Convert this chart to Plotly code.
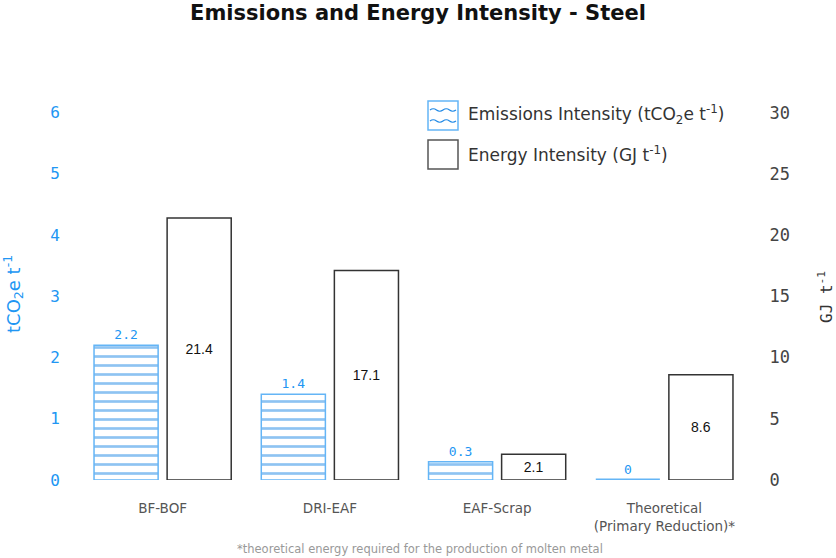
import plotly.graph_objects as go

categories = ["BF-BOF", "DRI-EAF", "EAF-Scrap", "Theoretical<br>(Primary Reduction)*"]
emissions = [2.2, 1.4, 0.3, 0]
energy = [21.4, 17.1, 2.1, 8.6]
left_ticks = [0, 1, 2, 3, 4, 5, 6]
right_ticks = [0, 5, 10, 15, 20, 25, 30]

BLUE = "#1E88E5"
LBLUE = "#64B5F6"
TBLUE = "#2196F3"
DARK = "#333333"
MONO = "DejaVu Sans Mono"
SANS = "DejaVu Sans, sans-serif"

W_PX, H_PX = 836, 558
L, R, T, B = 79, 748, 82, 480


def px(x):
    return (x - L) / (R - L)


def py(y):
    return (B - y) / (B - T)


fig = go.Figure()
fig.add_bar(
    x=categories, y=emissions, yaxis="y", offsetgroup="1",
    marker=dict(color="white", line=dict(color=LBLUE, width=[1.5 if v else 3 for v in emissions]),
                pattern=dict(shape="-", fgcolor=BLUE, bgcolor="white", size=9, solidity=0.3)),
    text=[str(v) for v in emissions], textposition="outside",
    textfont=dict(color=TBLUE, family=MONO, size=13), cliponaxis=False,
    name="Emissions Intensity", showlegend=False,
)
fig.add_bar(
    x=categories, y=energy, yaxis="y2", offsetgroup="2",
    marker=dict(color="white", line=dict(color=DARK, width=1.5)),
    text=[str(v) for v in energy], textposition="inside", insidetextanchor="middle",
    textfont=dict(color="#111111", family="Liberation Sans, Arial, sans-serif", size=14), cliponaxis=False,
    name="Energy Intensity", showlegend=False,
)

fig.update_layout(
    width=W_PX, height=H_PX,
    margin=dict(l=L, r=W_PX - R, t=T, b=H_PX - B),
    paper_bgcolor="white", plot_bgcolor="white",
    barmode="group", bargap=0.126, bargroupgap=0.123,
    title=dict(text="<b>Emissions and Energy Intensity - Steel</b>", x=0.5, xanchor="center",
               y=1 - 13 / H_PX, yanchor="middle", font=dict(family=SANS, size=21, color="#111111")),
    font=dict(family=SANS),
    xaxis=dict(showgrid=False, showline=False, zeroline=False, ticks="outside", ticklen=16,
               tickcolor="rgba(0,0,0,0)", tickfont=dict(color="#555555", size=13.5, family=SANS)),
    yaxis=dict(range=[0, 6.5], tickvals=left_ticks, showgrid=False, zeroline=False, showline=False,
               ticks="outside", ticklen=15, tickcolor="rgba(0,0,0,0)",
               tickfont=dict(color=TBLUE, family=MONO, size=16)),
    yaxis2=dict(range=[0, 32.5], tickvals=right_ticks, overlaying="y", side="right",
                showgrid=False, zeroline=False, showline=False,
                ticks="outside", ticklen=17, tickcolor="rgba(0,0,0,0)",
                tickfont=dict(color="#444444", family=MONO, size=17)),
    showlegend=False,
)

# axis titles
fig.add_annotation(xref="paper", yref="paper", x=px(13), y=py(294), xanchor="center", yanchor="middle",
                   text="tCO<sub>2</sub>e t<sup>-1</sup>",
                   textangle=-90, showarrow=False, font=dict(color=TBLUE, family=SANS, size=18))
fig.add_annotation(xref="paper", yref="paper", x=px(825), y=py(297), xanchor="center", yanchor="middle",
                   text="GJ t<sup>-1</sup>",
                   textangle=-90, showarrow=False, font=dict(color=DARK, family=MONO, size=16))

# custom legend
fig.add_shape(type="rect", xref="paper", yref="paper", x0=px(428), x1=px(458), y0=py(130), y1=py(101),
              line=dict(color=LBLUE, width=1.5), fillcolor="white")
for wy in (110, 121):
    path = f"M {px(430)},{py(wy)}"
    x = 430
    up = True
    while x < 456:
        nx = min(x + 6.5, 456)
        cy = wy - 2.5 if up else wy + 2.5
        path += f" Q {px((x + nx) / 2)},{py(cy)} {px(nx)},{py(wy)}"
        x = nx
        up = not up
    fig.add_shape(type="path", xref="paper", yref="paper", path=path, line=dict(color=BLUE, width=1.2))
fig.add_shape(type="rect", xref="paper", yref="paper", x0=px(428), x1=px(458), y0=py(169), y1=py(140),
              line=dict(color="#555555", width=1.5), fillcolor="white")
fig.add_annotation(xref="paper", yref="paper", x=px(466), y=py(115), xanchor="left", yanchor="middle",
                   text="Emissions Intensity (tCO<sub>2</sub>e t<sup>-1</sup>)", showarrow=False,
                   font=dict(color=DARK, family=SANS, size=17))
fig.add_annotation(xref="paper", yref="paper", x=px(466), y=py(154), xanchor="left", yanchor="middle",
                   text="Energy Intensity (GJ t<sup>-1</sup>)", showarrow=False,
                   font=dict(color=DARK, family=SANS, size=17))

# footnote
fig.add_annotation(xref="paper", yref="paper", x=px(420), y=py(549), xanchor="center", yanchor="middle",
                   text="*theoretical energy required for the production of molten metal", showarrow=False,
                   font=dict(color="#999999", family=SANS, size=11.5))

fig.write_html("out.html", config={"displayModeBar": False},
               post_script="document.body.style.margin='0';document.body.style.overflow='hidden';")
